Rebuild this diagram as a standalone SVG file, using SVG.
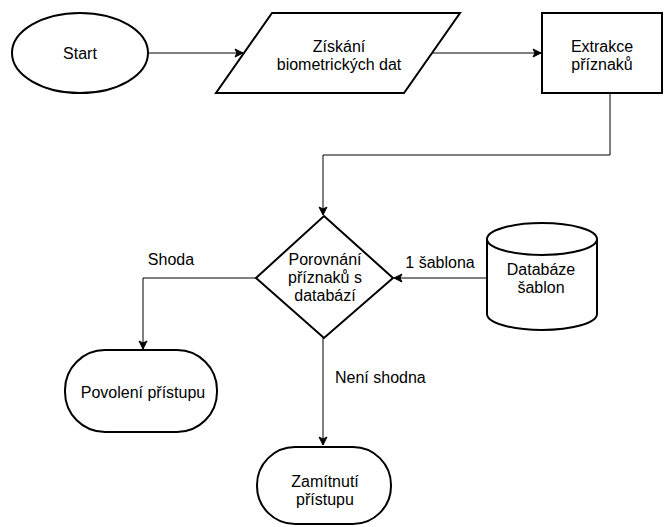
<svg xmlns="http://www.w3.org/2000/svg" width="667" height="527" viewBox="0 0 667 527">
<defs>
<marker id="arr" markerWidth="10" markerHeight="10" refX="9" refY="5" orient="auto" markerUnits="userSpaceOnUse">
<path d="M1,1 L9,5 L1,9 L3,5 Z" fill="#000" stroke="#000" stroke-width="1"/>
</marker>
<style>
.s{fill:#fff;stroke:#000;stroke-width:2}
.c{fill:none;stroke:#000;stroke-width:1}
text{font-family:"Liberation Sans",Arial,sans-serif;font-size:16px;fill:#000;text-anchor:middle}
</style>
</defs>
<rect width="667" height="527" fill="#fff"/>
<g id="connectors">
<path class="c" d="M148,53 L243,53" marker-end="url(#arr)"/>
<path class="c" d="M432,53 L541,53" marker-end="url(#arr)"/>
<path class="c" d="M610,93 L610,155 L323,155 L323,215" marker-end="url(#arr)"/>
<path class="c" d="M487,278 L394,278" marker-end="url(#arr)"/>
<text x="440" y="268">1 šablona</text>
<path class="c" d="M257,278 L143,278 L143,349" marker-end="url(#arr)"/>
<text x="171" y="265">Shoda</text>
<path class="c" d="M323,338 L323,445" marker-end="url(#arr)"/>
<text x="335" y="383" style="text-anchor:start">Není shodna</text>
</g>
<g id="start">
<ellipse class="s" cx="80" cy="53" rx="68" ry="40"/>
<text x="80" y="59">Start</text>
</g>
<g id="ziskani">
<polygon class="s" points="272,13 460,13 404,93 216,93"/>
<text x="339" y="52">Získání</text>
<text x="339" y="70">biometrických dat</text>
</g>
<g id="extrakce">
<rect class="s" x="542" y="13" width="120" height="80"/>
<text x="602" y="52">Extrakce</text>
<text x="602" y="70">příznaků</text>
</g>
<g id="porovnani">
<polygon class="s" points="324,216 393,278 324,338 256,278"/>
<text x="325" y="265">Porovnání</text>
<text x="325" y="283">příznaků s</text>
<text x="325" y="301">databází</text>
</g>
<g id="databaze">
<path class="s" d="M487,239 A55,16 0 0 1 597,239 L597,314 A55,16 0 0 1 487,314 Z"/>
<path class="s" style="fill:none" d="M487,239 A55,16 0 0 0 597,239"/>
<text x="541" y="275">Databáze</text>
<text x="541" y="293">šablon</text>
</g>
<g id="povoleni">
<rect class="s" x="65" y="350" width="152" height="82" rx="40" ry="40"/>
<text x="143" y="398">Povolení přístupu</text>
</g>
<g id="zamitnuti">
<rect class="s" x="257" y="447" width="134" height="77" rx="38" ry="38"/>
<text x="325" y="487">Zamítnutí</text>
<text x="325" y="505">přístupu</text>
</g>
</svg>
